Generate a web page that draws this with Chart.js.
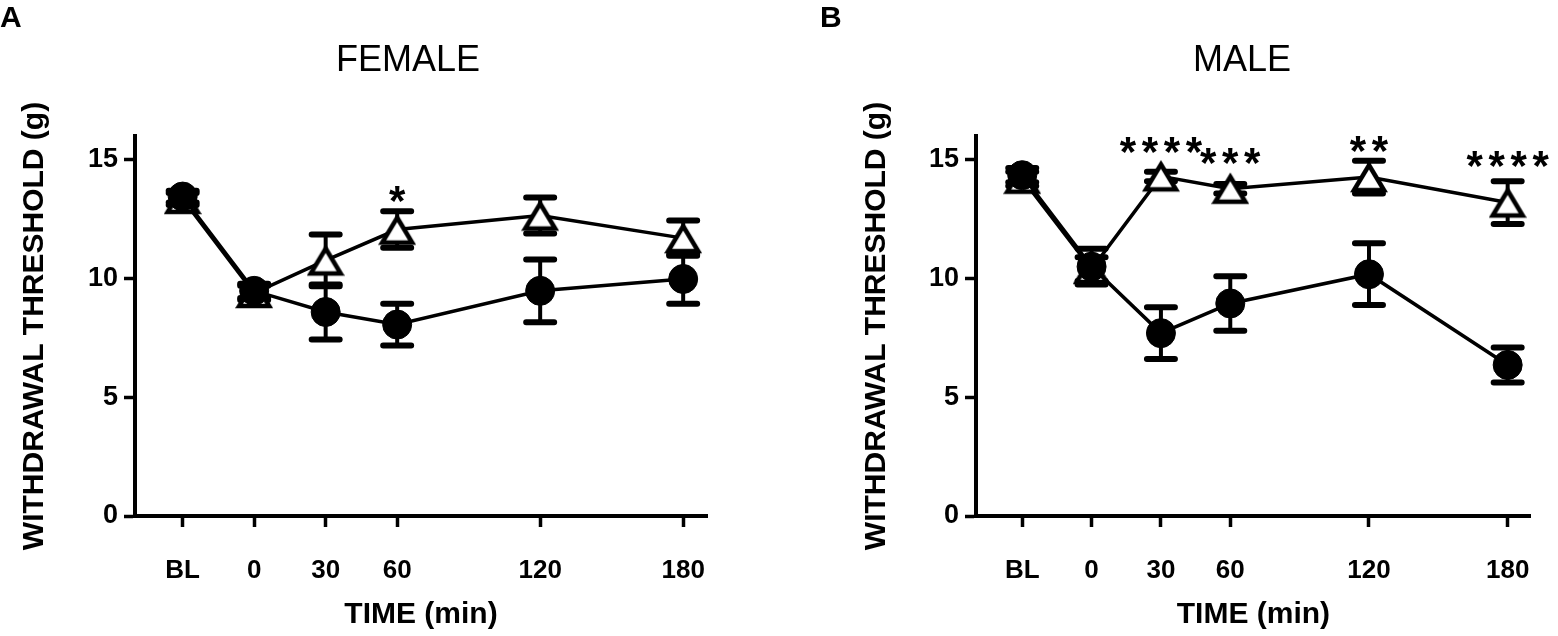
<!DOCTYPE html>
<html>
<head>
<meta charset="utf-8">
<script src="https://cdn.jsdelivr.net/npm/chart.js@4.4.1/dist/chart.umd.min.js"></script>
<style>
  html, body { margin: 0; padding: 0; background: #fff; }
  #wrap { position: relative; width: 1558px; height: 636px; }
  .panel { position: absolute; top: 0; width: 779px; height: 636px; }
</style>
</head>
<body>
<div id="wrap">
  <div class="panel" style="left:0"><canvas id="female-chart" width="779" height="636"></canvas></div>
  <div class="panel" style="left:779px"><canvas id="male-chart" width="779" height="636"></canvas></div>
</div>
<script>
// --- Data ---
const timePoints = [-30, 0, 30, 60, 120, 180];
const timeLabels = ['BL', '0', '30', '60', '120', '180'];
const yTicks = [0, 5, 10, 15];

// filled circles / open triangles, mean and error (g)
const femaleCircle = [13.45, 9.48, 8.59, 8.06, 9.48, 9.98];
const femaleCircleErr = [0.25, 0.3, 1.16, 0.88, 1.32, 1.04];
const femaleTriangle = [13.35, 9.39, 10.76, 12.06, 12.65, 11.7];
const femaleTriangleErr = [0.25, 0.3, 1.09, 0.77, 0.76, 0.74];
const femaleStars = ['', '', '', '*', '', ''];
const femaleStarLevel = [0, 0, 0, 13.7, 0, 0];

const maleCircle = [14.35, 10.5, 7.7, 8.95, 10.18, 6.36];
const maleCircleErr = [0.3, 0.75, 1.085, 1.15, 1.3, 0.74];
const maleTriangle = [14.2, 10.4, 14.3, 13.78, 14.27, 13.2];
const maleTriangleErr = [0.3, 0.5, 0.2, 0.2, 0.69, 0.9];
const maleStars = ['', '', '****', '***', '**', '****'];
const maleStarLevel = [0, 0, 15.75, 15.3, 15.8, 15.15];

Chart.defaults.font.family = "'Liberation Sans', Arial, Helvetica, sans-serif";
Chart.defaults.color = '#000';

// open triangle marker, centred on its bounding box like the original
function makeTriangle() {
      const c = document.createElement('canvas');
      c.width = 38;
      c.height = 34;
      const g = c.getContext('2d');
      g.beginPath();
      g.moveTo(19, 5);
      g.lineTo(34, 30);
      g.lineTo(4, 30);
      g.closePath();
      g.fillStyle = '#fff';
      g.fill();
      g.lineWidth = 4.5;
      g.strokeStyle = '#000';
      g.stroke();
      return c;
}
const triangleImg = makeTriangle();

const panelMarks = {
      id: 'panelMarks',
      beforeDatasetsDraw(chart) {
            const { ctx, scales: { x, y } } = chart;
            ctx.save();
            ctx.strokeStyle = '#000';
            chart.data.datasets.forEach(ds => {
                  ds.data.forEach((pt, i) => {
                        const px = x.getPixelForValue(pt.x);
                        const top = y.getPixelForValue(pt.y + ds.errorBars[i]);
                        const bot = y.getPixelForValue(pt.y - ds.errorBars[i]);
                        ctx.lineWidth = 4;
                        ctx.lineCap = 'butt';
                        ctx.beginPath();
                        ctx.moveTo(px, top);
                        ctx.lineTo(px, bot);
                        ctx.stroke();
                        ctx.lineWidth = 6;
                        ctx.lineCap = 'round';
                        ctx.beginPath();
                        ctx.moveTo(px - 14, top);
                        ctx.lineTo(px + 14, top);
                        ctx.moveTo(px - 14, bot);
                        ctx.lineTo(px + 14, bot);
                        ctx.stroke();
                  });
            });
            ctx.restore();
      },
      afterDatasetsDraw(chart, args, opts) {
            const { ctx, scales: { x, y } } = chart;
            const size = 42;
            ctx.save();
            ctx.fillStyle = '#000';
            ctx.font = "bold " + size + "px 'Liberation Sans', Arial, sans-serif";
            ctx.textAlign = 'center';
            ctx.textBaseline = 'alphabetic';
            opts.stars.forEach((txt, i) => {
                  if (!txt) return;
                  const cx = x.getPixelForValue(timePoints[i]);
                  const base = y.getPixelForValue(opts.starLevel[i]) + size * 0.57;
                  for (let k = 0; k < txt.length; k++) {
                        ctx.fillText('*', cx + (k - (txt.length - 1) / 2) * 22, base);
                  }
            });
            ctx.restore();
      },
      afterDraw(chart, args, opts) {
            const ctx = chart.ctx;
            ctx.save();
            ctx.fillStyle = '#000';
            ctx.textBaseline = 'alphabetic';
            ctx.textAlign = 'left';
            ctx.font = "bold 30px 'Liberation Sans', Arial, sans-serif";
            ctx.fillText(opts.letter, opts.letterX, 27);
            ctx.textAlign = 'center';
            ctx.font = "36px 'Liberation Sans', Arial, sans-serif";
            ctx.fillText(opts.title, opts.titleX, 71);
            ctx.restore();
      }
};

function drawPanel(canvasId, circle, circleErr, triangle, triangleErr, stars, starLevel, panel) {
      const ctx = document.getElementById(canvasId).getContext('2d');
      const axisGrid = { drawOnChartArea: false, drawTicks: true, tickLength: 11, tickWidth: 3.5, tickColor: '#000' };
      const axisBorder = { display: true, color: '#000', width: 4 };

      new Chart(ctx, {
      type: 'line',
      data: {
            datasets: [{
                  data: timePoints.map((t, i) => ({ x: t, y: circle[i] })),
                  errorBars: circleErr,
                  borderColor: '#000',
                  borderWidth: 3.5,
                  pointStyle: 'circle',
                  pointRadius: 14.5,
                  pointBackgroundColor: '#000',
                  pointBorderColor: '#000',
                  pointBorderWidth: 1,
                  tension: 0,
                  clip: false
            }, {
                  data: timePoints.map((t, i) => ({ x: t, y: triangle[i] })),
                  errorBars: triangleErr,
                  borderColor: '#000',
                  borderWidth: 3.5,
                  pointStyle: triangleImg,
                  tension: 0,
                  clip: false
            }]
      },
      options: {
            responsive: false,
            animation: false,
            events: [],
            layout: { padding: { left: panel.padLeft, right: panel.padRight, top: 136, bottom: 3 } },
            scales: {
                  x: {
                  type: 'linear',
                  min: -50,
                  max: 190,
                  afterBuildTicks: s => { s.ticks = timePoints.map(v => ({ value: v })); },
                  afterFit: s => { s.height = 117; },
                  ticks: {
                        callback: v => timeLabels[timePoints.indexOf(v)],
                        font: { size: 26, weight: 'bold' },
                        color: '#000',
                        padding: 28,
                        maxRotation: 0,
                        autoSkip: false
                  },
                  grid: axisGrid,
                  border: axisBorder,
                  title: { display: true, text: 'TIME (min)', color: '#000', font: { size: 30, weight: 'bold' }, padding: { top: 0, bottom: 0 } }
                  },
                  y: {
                  min: 0,
                  max: 16,
                  afterBuildTicks: s => { s.ticks = yTicks.map(v => ({ value: v })); },
                  afterFit: s => { s.width = panel.yWidth; },
                  ticks: { font: { size: 27, weight: 'bold' }, color: '#000', padding: 6 },
                  grid: axisGrid,
                  border: axisBorder,
                  title: { display: true, text: 'WITHDRAWAL THRESHOLD (g)', color: '#000', font: { size: 30, weight: 'bold' }, padding: { top: 4, bottom: 0 } }
                  }
            },
            plugins: {
                  legend: { display: false },
                  tooltip: { enabled: false },
                  panelMarks: { stars: stars, starLevel: starLevel, letter: panel.letter, letterX: panel.letterX, title: panel.title, titleX: panel.titleX }
            }
      },
      plugins: [panelMarks]
      });
}

drawPanel('female-chart', femaleCircle, femaleCircleErr, femaleTriangle, femaleTriangleErr, femaleStars, femaleStarLevel,
      { letter: 'A', letterX: 0, title: 'FEMALE', titleX: 408, padLeft: 13, yWidth: 122, padRight: 72 });
drawPanel('male-chart', maleCircle, maleCircleErr, maleTriangle, maleTriangleErr, maleStars, maleStarLevel,
      { letter: 'B', letterX: 41, title: 'MALE', titleX: 463, padLeft: 76, yWidth: 121, padRight: 10 });
</script>
</body>
</html>
